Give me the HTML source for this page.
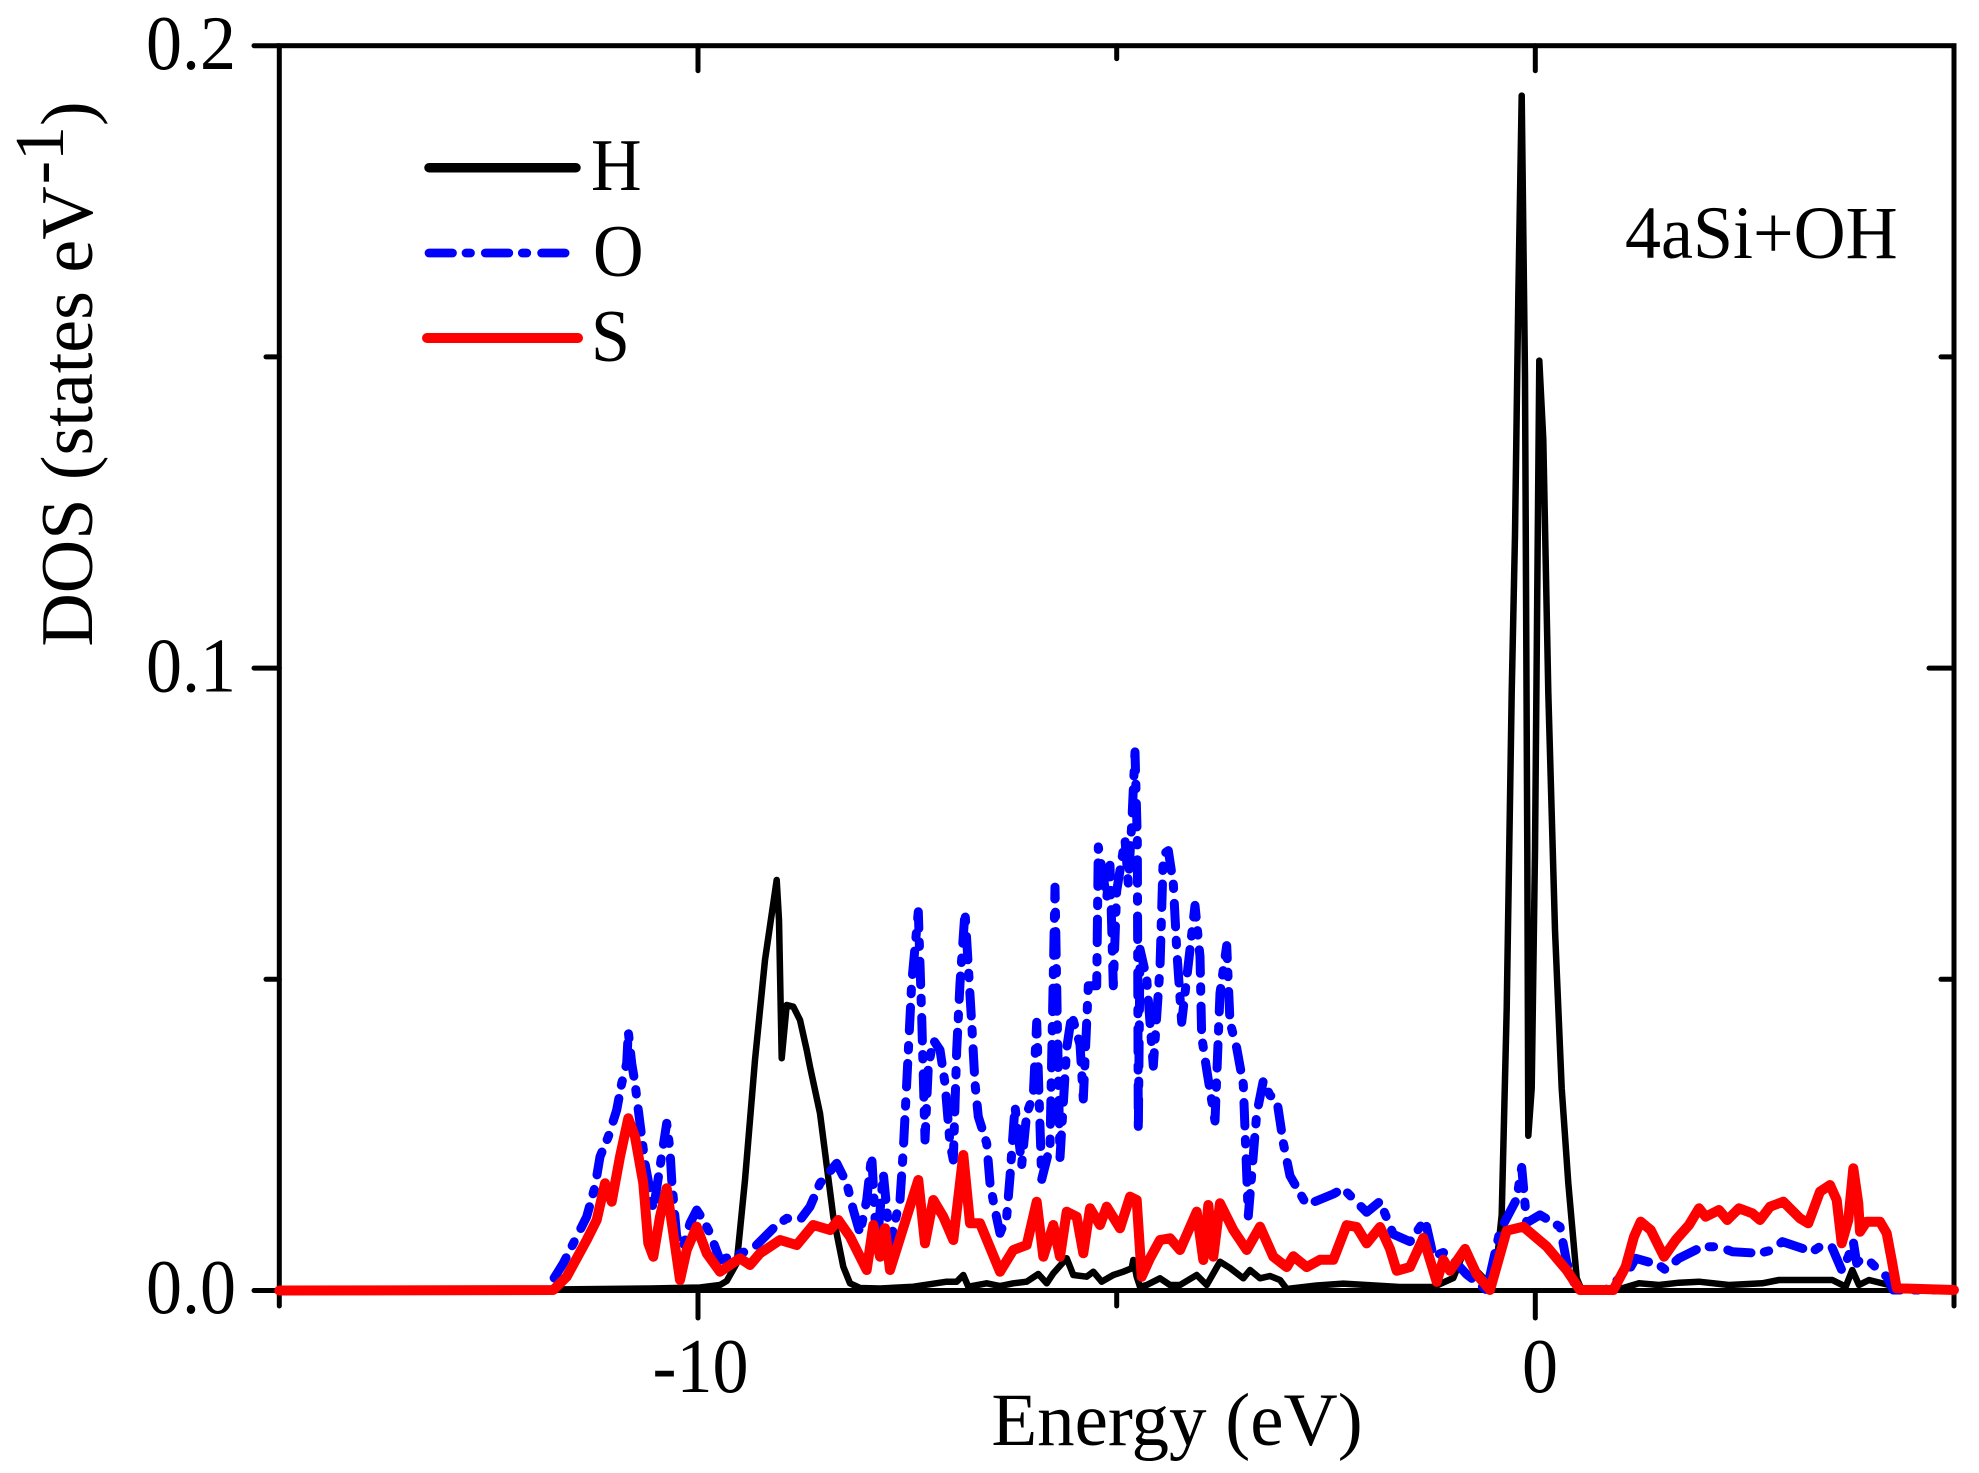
<!DOCTYPE html>
<html>
<head>
<meta charset="utf-8">
<style>
  html, body { margin: 0; padding: 0; background: #ffffff; }
  body { width: 1979px; height: 1473px; overflow: hidden; }
  svg { display: block; }
  text { font-family: "Liberation Serif", "Times New Roman", serif; fill: #000; }
</style>
</head>
<body>
<svg width="1979" height="1473" viewBox="0 0 1979 1473" xmlns="http://www.w3.org/2000/svg">
  <rect x="0" y="0" width="1979" height="1473" fill="#ffffff"/>

  <!-- Frame -->
  <rect x="279.3" y="45.7" width="1674.7" height="1244.8" fill="none" stroke="#000" stroke-width="5"/>

  <!-- Ticks -->
  <g stroke="#000" stroke-width="5" stroke-linecap="round">
    <line x1="254" y1="1290.5" x2="279.3" y2="1290.5"/>
    <line x1="254" y1="668.1" x2="279.3" y2="668.1"/>
    <line x1="254" y1="45.7" x2="279.3" y2="45.7"/>
    <line x1="266" y1="979.3" x2="279.3" y2="979.3"/>
    <line x1="266" y1="356.9" x2="279.3" y2="356.9"/>
    <line x1="1929" y1="668.1" x2="1954" y2="668.1"/>
    <line x1="1941" y1="979.3" x2="1954" y2="979.3"/>
    <line x1="1941" y1="356.9" x2="1954" y2="356.9"/>
    <line x1="698" y1="1290.5" x2="698" y2="1318"/>
    <line x1="1535.3" y1="1290.5" x2="1535.3" y2="1318"/>
    <line x1="279.3" y1="1290.5" x2="279.3" y2="1306"/>
    <line x1="1116.7" y1="1290.5" x2="1116.7" y2="1306"/>
    <line x1="1954" y1="1290.5" x2="1954" y2="1306"/>
    <line x1="698" y1="45.7" x2="698" y2="70.7"/>
    <line x1="1535.3" y1="45.7" x2="1535.3" y2="70.7"/>
    <line x1="1116.7" y1="45.7" x2="1116.7" y2="58.7"/>
  </g>

  <!-- H (black) -->
  <polyline fill="none" stroke="#000" stroke-width="6.5" stroke-linejoin="round" stroke-linecap="round"
    points="279.3,1290.5 553,1289.5 650,1288.5 700,1287.5 720,1285 726.7,1281 736.7,1263.3 745,1180 755,1060 765,960 776.7,880 779,920 781.7,1058.3 786.7,1005 793.3,1006.7 800,1020 806.7,1050 810,1066.7 820,1113.3 833.3,1216.7 843.3,1266.7 850,1283.3 860,1288 880,1288.5 913.3,1286.7 946.7,1281.7 956.7,1281.7 963.3,1275 968.3,1286.7 986.7,1283.3 1000,1286 1013.3,1283.3 1026.7,1281.7 1038.3,1274 1046.7,1283.3 1053.3,1273.3 1066.7,1258.3 1073.3,1275 1086.7,1276.7 1093.3,1271.7 1101.7,1281.7 1113.3,1275 1123.3,1271.7 1131.7,1268.3 1133.3,1260 1136.7,1276.7 1140,1286.7 1146.7,1285 1160,1278.3 1170,1285 1180,1285 1196.7,1275 1206.7,1285 1220,1261.7 1230,1268 1243.3,1278.3 1250,1270 1260,1278.3 1270,1276 1280,1280 1286.7,1289 1316.7,1285.5 1343.3,1283.6 1400,1287 1433.3,1287 1453.3,1278 1465,1248.9 1476.7,1270.8 1490,1285 1497,1260 1501.7,1214.9 1506.7,1009 1511.7,692.8 1515,534.6 1518.3,297.3 1521.7,95.6 1525,376.4 1527.3,851 1528.3,1135.8 1531.7,1088.3 1535,851 1539.3,360.6 1543.3,439.7 1548.3,692.8 1555,930.1 1561.7,1088.3 1568.3,1183.2 1576.7,1278.1 1581.7,1290 1622.3,1288.3 1639,1283.3 1659,1285 1679,1282.7 1699,1281.7 1729,1285 1762.3,1283.3 1779,1280 1832.3,1280 1845.7,1286.7 1852.3,1270 1859,1285 1869,1280 1889,1285 1892.3,1290 1954,1290"/>

  <!-- O (blue dash-dot) -->
  <polyline fill="none" stroke="#0000ff" stroke-width="9" stroke-linejoin="round" stroke-linecap="round"
    stroke-dasharray="23.5 13.5 4.5 14.8"
    points="279.3,1290.5 546.7,1290 563.3,1263.3 576.7,1236.7 586.7,1216.7 595,1186.7 600,1156.7 608.3,1136.7 616.7,1110 621.7,1083.3 626.7,1063.3 628.3,1031.7 631.7,1063.3 635,1083.3 638.3,1110 641.7,1136.7 645,1163.3 650,1190 653.3,1210 660,1166.7 666.7,1123.3 670,1150 671.7,1180 676.7,1236.7 683.3,1246.7 690,1223.3 696.7,1210 703.3,1220 710,1233.3 720,1260 736.7,1255 753.3,1248.3 773.3,1228.3 786.7,1218.3 800,1220 810,1206.7 820,1183.3 836.7,1163.3 846.7,1183.3 853.3,1210 860,1233.3 866.7,1200 871.7,1155 876.7,1250 883.3,1173.3 890,1243.3 900,1200 903.3,1150 906.7,1083.3 911.7,983.3 918.3,911.7 921.7,1016.7 925,1140 928.3,1066.7 933.3,1040 940,1050 945,1083.3 950,1143.3 953.3,1160 956.7,1050 960,983.3 965,911.7 968.3,966.7 971.7,1023.3 975,1083.3 978.3,1116.7 986.7,1143.3 990,1183.3 995,1210 1000,1233.3 1006.7,1216.7 1010,1176.7 1015,1106.4 1021.7,1164.8 1026.7,1113.7 1033.3,1095.4 1036.7,1022.3 1041.7,1179.4 1050,1146.6 1055,887.1 1057.3,1022.3 1060,1157.5 1066.7,1047.9 1071.7,1015 1080,1044.2 1083.3,1099 1088.3,985.8 1096.7,985.8 1098.3,846.9 1106.7,898.1 1110,865.2 1113.3,985.8 1116.7,890.8 1125,839.6 1128.3,883.5 1131.7,825 1135,751.9 1137.3,839.6 1138.3,1131.9 1140,949.2 1146.7,978.5 1153.3,1066.2 1160,967.5 1163.3,854.2 1168.3,850.6 1173.3,883.5 1176.7,949.2 1181.7,1022.3 1186.7,978.5 1195,905.4 1200,956.5 1201.7,1036.9 1206.7,1069.8 1215,1121 1220,993.1 1226.7,945.6 1230,1022.3 1236.7,1047.9 1243.3,1084.4 1248.3,1216 1256.7,1113.7 1263.3,1080.8 1270,1095.4 1276.7,1099 1283.3,1142.9 1290,1175.8 1306.7,1205 1333.3,1194 1343.3,1188.6 1366.7,1212.3 1380,1201.4 1393.3,1234.3 1410,1241.6 1425,1219.6 1433.3,1256.2 1443.3,1252.5 1453.3,1259.8 1466.7,1274.4 1486.7,1290 1500,1230.7 1516.7,1199 1521.7,1167.4 1526.7,1222.8 1540,1214.9 1560,1226.7 1566.7,1262.3 1576.7,1290 1605.7,1290 1629,1270 1635.7,1258.3 1659,1265 1665.7,1270 1679,1258.3 1702.3,1246.7 1719,1246.7 1732.3,1251.7 1759,1253.3 1772.3,1250 1782.3,1241.7 1812.3,1251.7 1822.3,1245 1831.7,1246.7 1841.7,1270 1848.3,1256.7 1853.3,1241.7 1856.7,1263.3 1860,1260 1870,1261.7 1876.7,1268.3 1886.7,1276.7 1893.3,1290 1954,1290"/>

  <!-- S (red) -->
  <polyline fill="none" stroke="#ff0000" stroke-width="10" stroke-linejoin="round" stroke-linecap="round"
    points="279.3,1290.5 553.3,1290 566.7,1276.7 586.7,1240 596.7,1220 605,1183.3 611.7,1201.7 620,1156.7 628.3,1118.3 635,1136.7 643.3,1183.3 648.3,1243.3 653.3,1256.7 660,1216.7 666.7,1188.3 673.3,1233.3 680,1280 686.7,1250 696.7,1226.7 706.7,1253.3 720,1271.7 730,1265 740,1258.3 750,1265 760,1253.3 770,1246.7 780,1240 796.7,1245 813.3,1225 830,1230 838.3,1220 850,1236.7 866.7,1270 873.3,1225 880,1256.7 885,1228.3 890,1270 906.7,1216.7 918.3,1180 925,1243.3 933.3,1200 943.3,1216.7 953.3,1240 963.3,1155 970,1223.3 980,1223.3 1000,1271.7 1013.3,1250 1026.7,1245 1036.7,1201.7 1043.3,1256.7 1053.3,1225 1060,1256.7 1066.7,1211.7 1076.7,1216.7 1083.3,1253.3 1090,1208.3 1100,1225 1106.7,1206.7 1120,1228.3 1130,1196.7 1136.7,1200 1141.7,1276.7 1150,1258.3 1160,1240 1170,1238.3 1180,1250 1196.7,1211.7 1203.3,1260 1208.3,1205 1213.3,1256.7 1220,1203.3 1233.3,1230 1246.7,1250 1260,1226.7 1273.3,1256.7 1286.7,1267.1 1293.3,1256.2 1306.7,1267.1 1320,1259.8 1333.3,1259.8 1346.7,1225.1 1356.7,1227 1366.7,1243.4 1380,1227 1390,1248.9 1396.7,1270.8 1410,1267.1 1423.3,1237.9 1436.7,1281.8 1443.3,1259.8 1450,1270.8 1465,1248.9 1476.7,1274.4 1490,1290 1506.7,1230.7 1523.3,1226.7 1546.7,1246.5 1566.7,1270.2 1580,1290 1613.3,1290 1625.7,1266.7 1634,1236.7 1640.7,1221.7 1650.7,1230 1664,1256.7 1675.7,1240 1689,1225 1699,1208.3 1705.7,1216.7 1719,1210 1727.3,1220 1739,1208.3 1752.3,1213.3 1760,1220 1770,1206.7 1783.3,1201.7 1793.3,1211.7 1800,1218.3 1808.3,1223.3 1820,1191.7 1830,1185 1836.7,1200 1841.7,1243.3 1848.3,1220 1853.3,1168.3 1858.3,1203.3 1860,1231.7 1866.7,1221.7 1880,1221.7 1886.7,1233.3 1891.7,1260 1896.7,1288.3 1954,1290"/>

  <!-- Y tick labels -->
  <text transform="translate(236,69) scale(1,1.07)" text-anchor="end" font-size="72">0.2</text>
  <text transform="translate(236,691.6) scale(1,1.07)" text-anchor="end" font-size="72">0.1</text>
  <text transform="translate(236,1313) scale(1,1.07)" text-anchor="end" font-size="72">0.0</text>

  <!-- X tick labels -->
  <text transform="translate(700.5,1392) scale(1,1.07)" text-anchor="middle" font-size="72">-10</text>
  <text transform="translate(1540,1392) scale(1,1.07)" text-anchor="middle" font-size="72">0</text>

  <!-- Axis titles -->
  <text x="1177" y="1445" text-anchor="middle" font-size="75">Energy (eV)</text>
  <text transform="translate(92,374) rotate(-90)" text-anchor="middle" font-size="74">DOS (states eV<tspan dx="2" dy="-29" font-size="70">-1</tspan><tspan dy="29" font-size="74">)</tspan></text>

  <!-- Legend -->
  <line x1="429" y1="167.7" x2="576" y2="167.7" stroke="#000" stroke-width="9.5" stroke-linecap="round"/>
  <line x1="429" y1="253" x2="574" y2="253" stroke="#0000ff" stroke-width="8.7" stroke-linecap="round" stroke-dasharray="23.5 13.5 4.5 14.8"/>
  <line x1="427" y1="338" x2="578" y2="338" stroke="#ff0000" stroke-width="10" stroke-linecap="round"/>
  <text transform="translate(591,190) scale(1,1.06)" font-size="70">H</text>
  <text transform="translate(593,276) scale(1,1.06)" font-size="70">O</text>
  <text transform="translate(591,361) scale(1,1.06)" font-size="70">S</text>

  <!-- Annotation -->
  <text transform="translate(1625,258) scale(1,1.05)" font-size="72">4aSi+OH</text>
</svg>
</body>
</html>
